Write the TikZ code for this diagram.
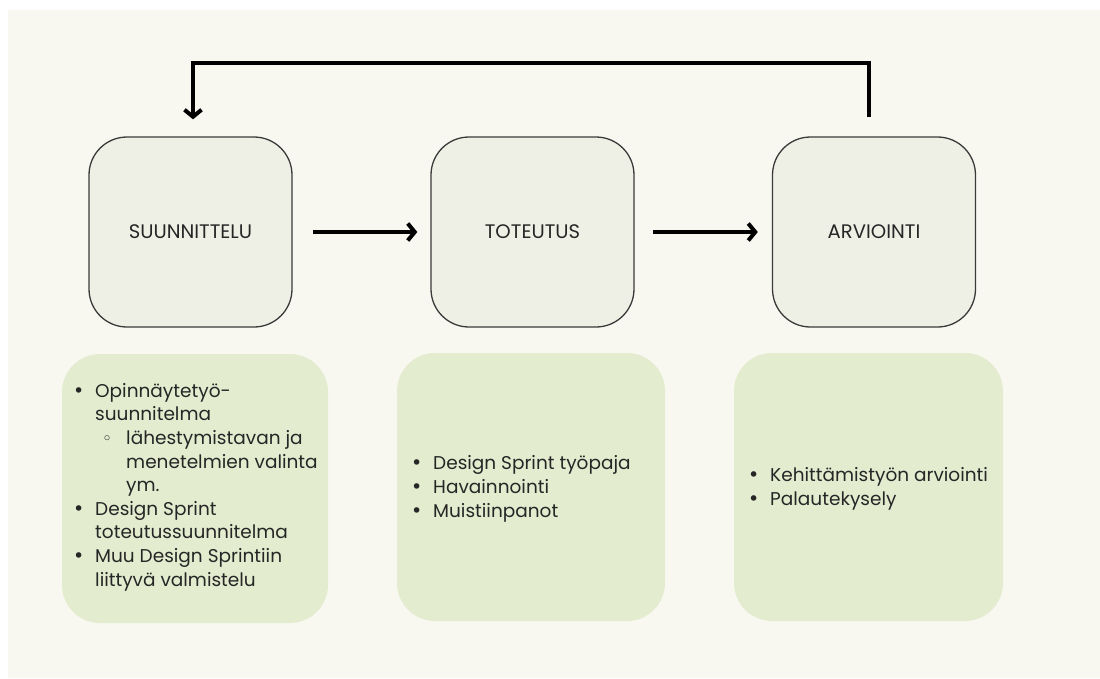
\documentclass[tikz,border=0pt]{standalone}
\usepackage{fontspec}
\setmainfont{Poppins}
\newfontfamily\symfont{DejaVu Sans}
\usetikzlibrary{arrows.meta}
\definecolor{cream}{HTML}{F8F8F1}
\definecolor{topfill}{HTML}{EFF0E5}
\definecolor{botfill}{HTML}{E3ECCF}
\definecolor{ink}{HTML}{262626}
\definecolor{edge}{HTML}{3A3A3A}
\newcommand\bul{\makebox[22pt][l]{{\symfont\fontsize{19}{19}\selectfont •}}}
\newcommand\subbul{\hspace*{7pt}\makebox[24pt][l]{{\symfont\fontsize{17}{17}\selectfont ◦}}}
\newcommand\ind{\hspace*{22pt}}
\newcommand\subind{\hspace*{53pt}}
\tikzset{
  stage/.style={draw=edge, line width=1.3pt, fill=topfill, rounded corners=38pt,
    minimum width=203pt, minimum height=190pt, inner sep=0pt,
    font=\fontsize{19.6}{21}\selectfont, text=ink},
  panel/.style={fill=botfill, rounded corners=38pt, inner sep=0pt},
  items/.style={anchor=base west, align=left, inner sep=0pt,
    font=\fontsize{18.5}{23.6}\selectfont, text=ink},
  flow/.style={line width=4pt, -{Straight Barb[length=7pt,width=17pt,line width=4pt]}}
}
\begin{document}
\begin{tikzpicture}[x=1pt,y=-1pt]
\useasboundingbox (0,0) rectangle (1100,678);
\fill[white] (0,0) rectangle (1100,678);
\fill[cream] (8,10) rectangle (1100,678);
% top stages
\node[stage] (suu) at (190.5,232) {SUUNNITTELU};
\node[stage] (tot) at (532.5,232) {TOTEUTUS};
\node[stage] (arv) at (874,232) {ARVIOINTI};
% bottom panels
\node[panel, minimum width=266pt, minimum height=269pt] (p1) at (195,488.5) {};
\node[panel, minimum width=268pt, minimum height=268pt] (p2) at (531,487) {};
\node[panel, minimum width=269pt, minimum height=268pt] (p3) at (868.5,487) {};
% items (anchored at the baseline of the last line)
\node[items] (i1) at (73,586) {\bul Opinnäytetyö-\\
\ind suunnitelma\\
\ind\subbul lähestymistavan ja\\
\subind menetelmien valinta\\
\subind ym.\\
\bul Design Sprint\\
\ind toteutussuunnitelma\\
\bul Muu Design Sprintiin\\
\ind liittyvä valmistelu};
\node[items] (i2) at (411,517) {\bul Design Sprint työpaja\\
\bul Havainnointi\\
\bul Muistiinpanot};
\node[items] (i3) at (748,505.5) {\bul Kehittämistyön arviointi\\
\bul Palautekysely};
% connectors
\draw[flow, shorten <=20pt, shorten >=13pt] (suu.east) -- (tot.west);
\draw[flow, shorten <=18pt, shorten >=14pt] (tot.east) -- (arv.west);
\draw[flow] ([xshift=-5pt,yshift=19pt]arv.north) -- ++(0,-54) -| ([xshift=2.5pt,yshift=17pt]suu.north);
\end{tikzpicture}
\end{document}
